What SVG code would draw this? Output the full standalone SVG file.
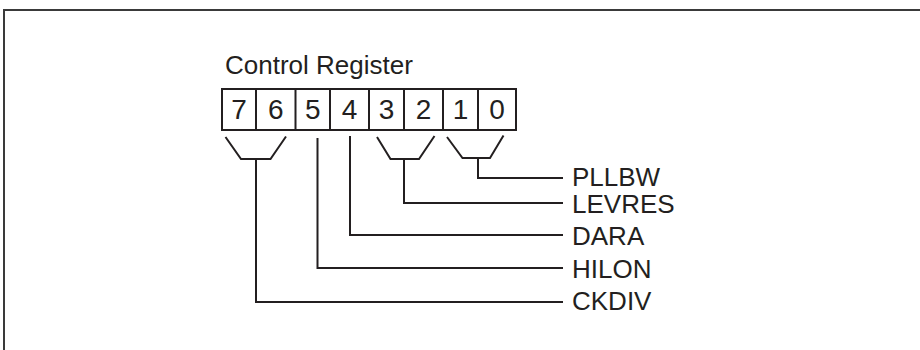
<svg xmlns="http://www.w3.org/2000/svg" width="920" height="350" viewBox="0 0 920 350">
<style>
.ln{fill:none;stroke:#231f20;stroke-width:2;stroke-linejoin:miter}
.fr{fill:none;stroke:#3a3a3a;stroke-width:2}
.t{font-family:"Liberation Sans",Arial,sans-serif;font-size:26px;fill:#231f20}
.d{font-family:"Liberation Sans",Arial,sans-serif;font-size:28px;fill:#231f20;text-anchor:middle}
</style>
<rect width="920" height="350" fill="#ffffff"/>
<path class="fr" d="M4,351 V10 H921"/>
<g id="title"><text class="t" x="225" y="74">Control Register</text></g>
<g id="register">
<rect class="ln" x="222" y="89" width="294" height="41"/>
<path class="ln" d="M256,89V130M295.5,89V130M330,89V130M369,89V130M404,89V130M443,89V130M478,89V130"/>
<text class="d" x="239" y="119">7</text>
<text class="d" x="275.8" y="119">6</text>
<text class="d" x="312.8" y="119">5</text>
<text class="d" x="349.5" y="119">4</text>
<text class="d" x="386.5" y="119">3</text>
<text class="d" x="423.5" y="119">2</text>
<text class="d" x="460.5" y="119">1</text>
<text class="d" x="497" y="119">0</text>
</g>
<g id="connectors">
<path class="ln" d="M225.5,137 L241,159 H270.5 L286,136.5"/>
<path class="ln" d="M377,137 L390.5,159 H419 L434.5,136"/>
<path class="ln" d="M447,137 L462.5,158 H490 L503.5,135.5"/>
<path class="ln" d="M478,158 V178 H563"/>
<path class="ln" d="M404,159 V203 H563"/>
<path class="ln" d="M350,136 V235 H563"/>
<path class="ln" d="M317.5,138 V268 H563"/>
<path class="ln" d="M256,159 V302 H563"/>
</g>
<g id="PLLBW"><text class="t" x="572" y="186">PLLBW</text></g>
<g id="LEVRES"><text class="t" x="572" y="213">LEVRES</text></g>
<g id="DARA"><text class="t" x="572" y="245">DARA</text></g>
<g id="HILON"><text class="t" x="572" y="278">HILON</text></g>
<g id="CKDIV"><text class="t" x="572" y="310">CKDIV</text></g>
</svg>
